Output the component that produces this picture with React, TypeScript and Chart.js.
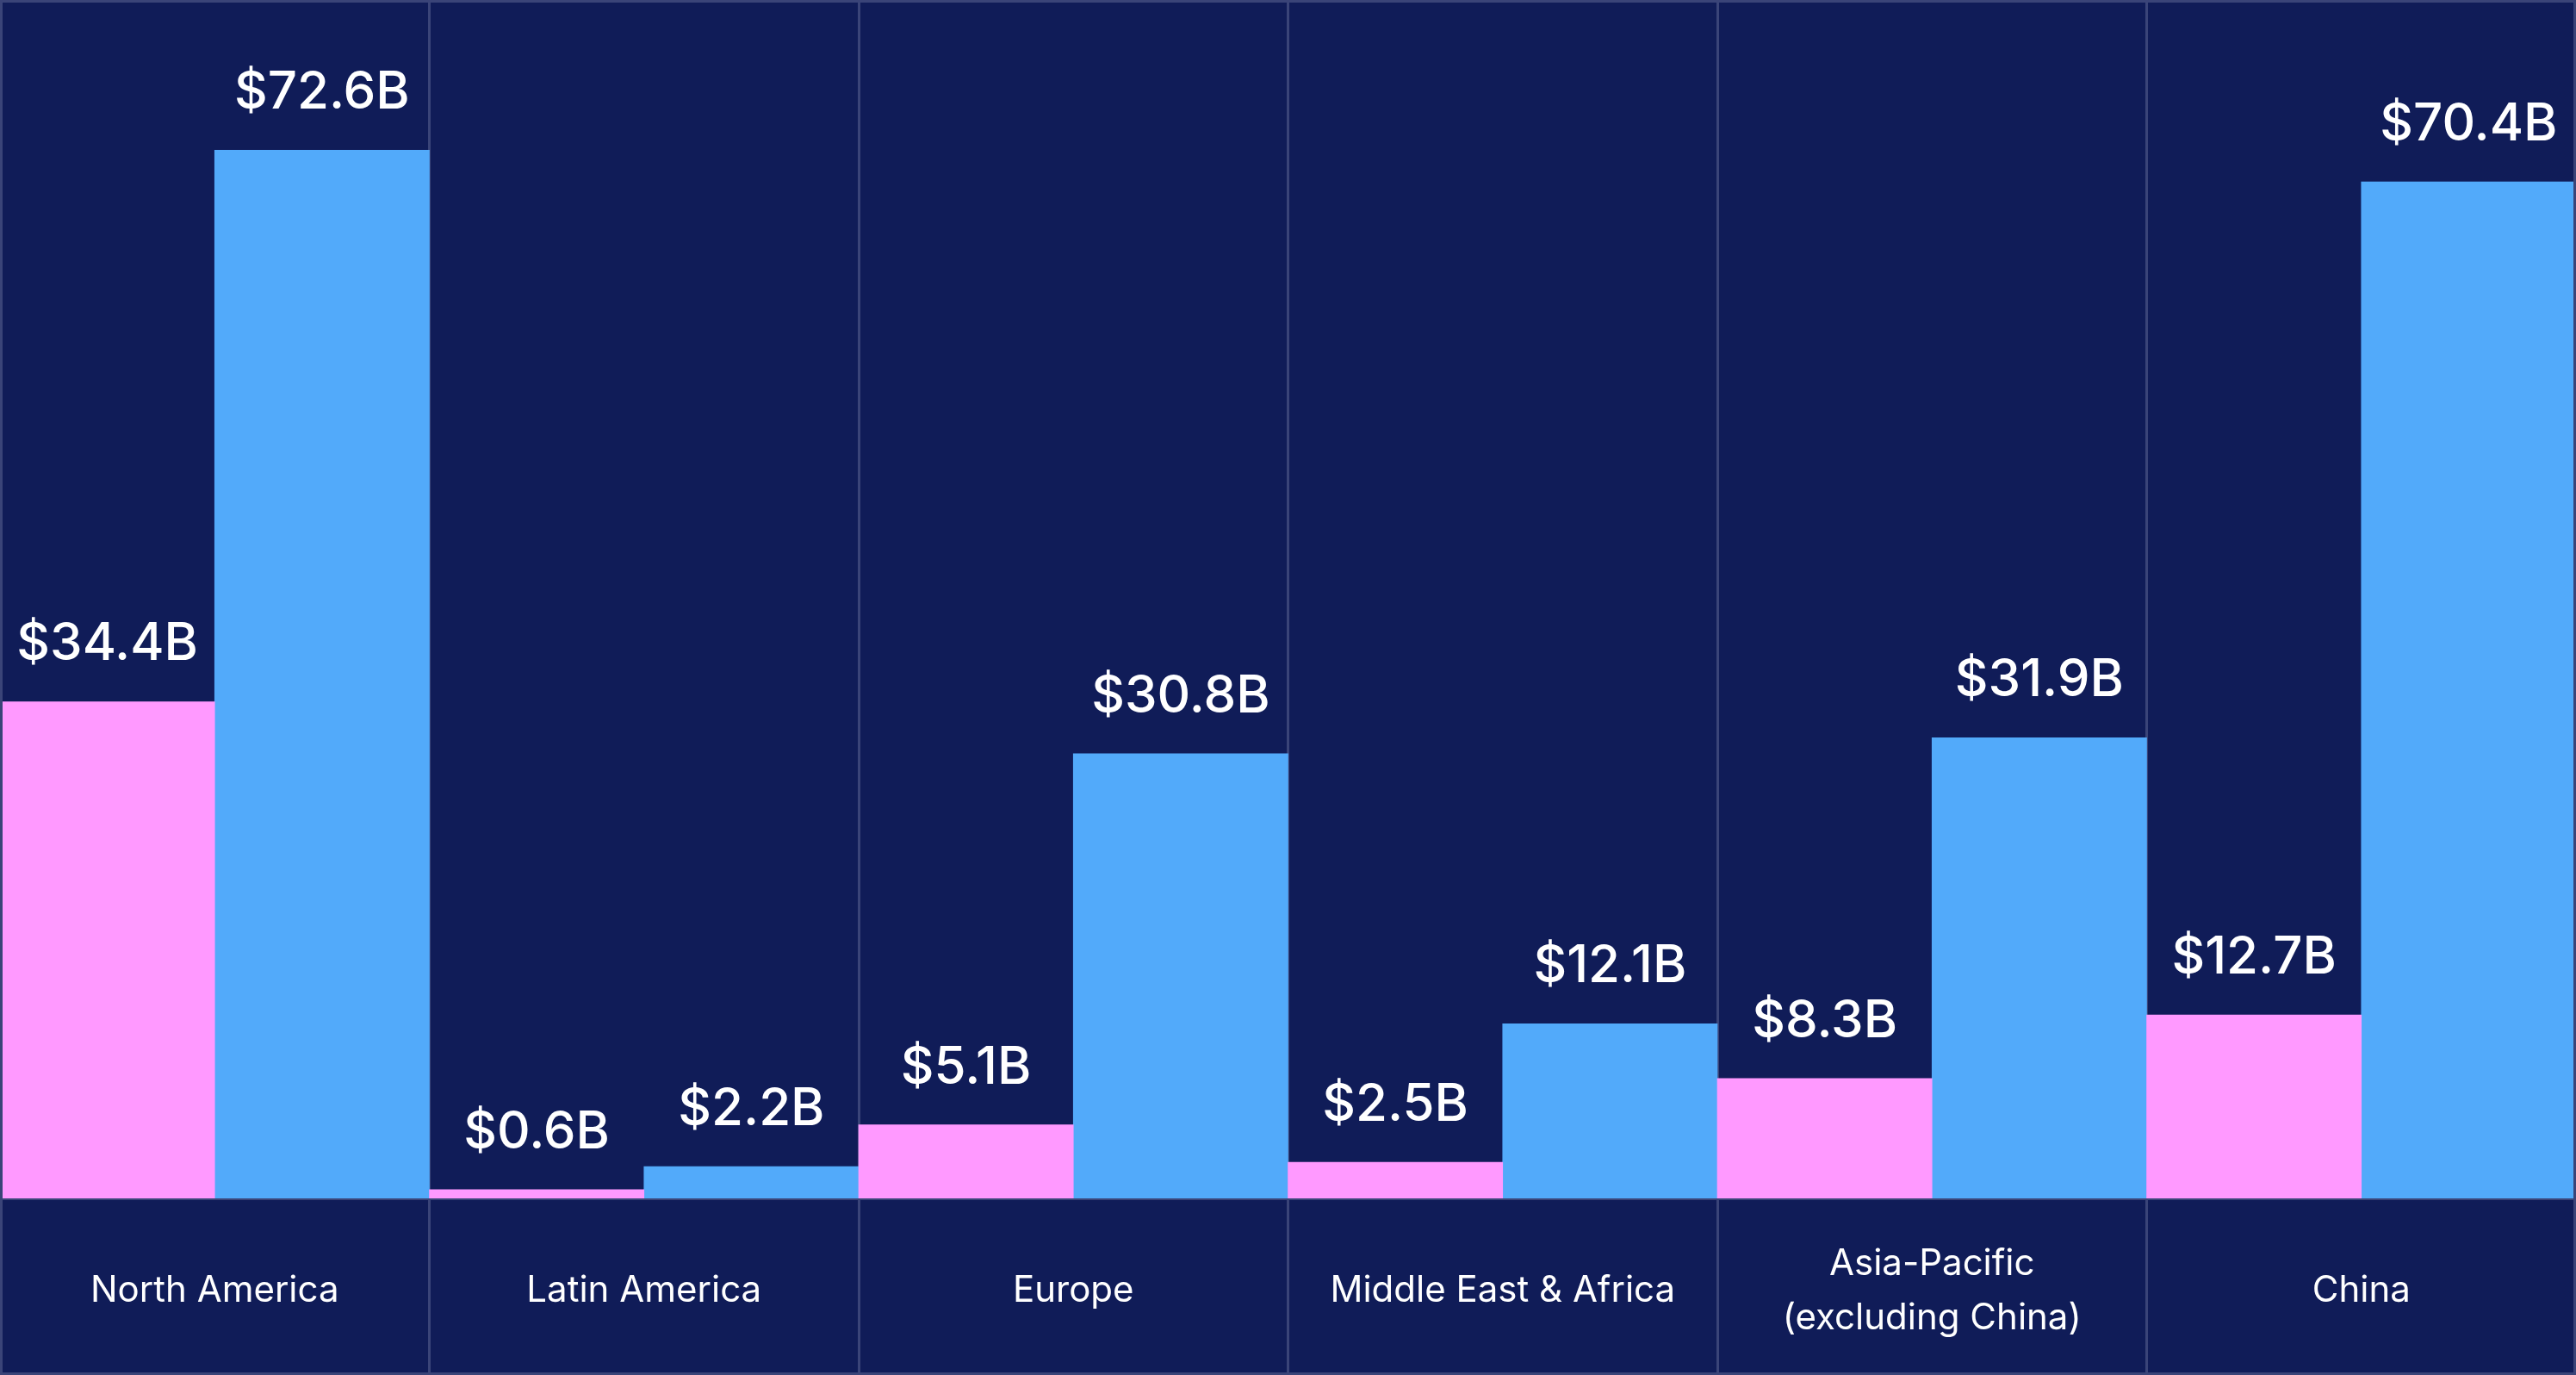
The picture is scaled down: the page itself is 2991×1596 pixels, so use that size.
import { useEffect, useRef } from "react";
import { Chart, registerables } from "chart.js";

Chart.register(...registerables);

const categories: (string | string[])[] = [
  "North America",
  "Latin America",
  "Europe",
  "Middle East & Africa",
  ["Asia-Pacific", "(excluding China)"],
  "China",
];
const pinkValues = [34.4, 0.6, 5.1, 2.5, 8.3, 12.7];
const blueValues = [72.6, 2.2, 30.8, 12.1, 31.9, 70.4];

const BG = "#101c58";
const GRID = "#3a4478";
const PINK = "#ff99ff";
const BLUE = "#52aafa";
const W = 2991;
const H = 1596;

const fmt = (v: number) => `$${v.toFixed(1)}B`;

const bgPlugin = {
  id: "bgFill",
  beforeDraw(chart: any) {
    const { ctx, width, height } = chart;
    ctx.save();
    ctx.fillStyle = BG;
    ctx.fillRect(0, 0, width, height);
    ctx.restore();
  },
};

const framePlugin = {
  id: "frame",
  afterDraw(chart: any) {
    const { ctx, width, height } = chart;
    ctx.save();
    ctx.strokeStyle = GRID;
    ctx.lineWidth = 3;
    ctx.strokeRect(1.5, 1.5, width - 3, height - 3);
    ctx.restore();
  },
};

const valueLabelPlugin = {
  id: "valueLabels",
  afterDatasetsDraw(chart: any) {
    const { ctx } = chart;
    ctx.save();
    ctx.fillStyle = "#ffffff";
    ctx.font = "500 60px Inter";
    ctx.textAlign = "center";
    ctx.textBaseline = "alphabetic";
    chart.data.datasets.forEach((ds: any, di: number) => {
      const meta = chart.getDatasetMeta(di);
      meta.data.forEach((bar: any, i: number) => {
        const { x, y } = bar.getProps(["x", "y"], true);
        ctx.fillText(fmt(ds.data[i]), x, y - 48);
      });
    });
    ctx.restore();
  },
};

export default function App() {
  const ref = useRef<HTMLCanvasElement | null>(null);

  useEffect(() => {
    if (!ref.current) return;
    const chart = new Chart(ref.current, {
      type: "bar",
      data: {
        labels: categories as any,
        datasets: [
          {
            label: "Pink",
            data: pinkValues,
            backgroundColor: PINK,
            borderWidth: 0,
            categoryPercentage: 1,
            barPercentage: 1,
          },
          {
            label: "Blue",
            data: blueValues,
            backgroundColor: BLUE,
            borderWidth: 0,
            categoryPercentage: 1,
            barPercentage: 1,
          },
        ],
      },
      options: {
        responsive: false,
        animation: false,
        devicePixelRatio: 1,
        layout: { padding: 0 },
        plugins: {
          legend: { display: false },
          tooltip: { enabled: false },
        },
        scales: {
          x: {
            offset: true,
            grid: {
              offset: true,
              color: GRID,
              lineWidth: 3,
              drawTicks: true,
              tickLength: 205,
              tickColor: GRID,
              tickWidth: 3,
            },
            border: { display: true, color: GRID, width: 4 },
            ticks: {
              color: "#ffffff",
              font: { family: "Inter", size: 42, lineHeight: 1.5 },
              padding: -129,
              maxRotation: 0,
              minRotation: 0,
              autoSkip: false,
              crossAlign: "center",
            },
            afterFit: (s: any) => {
              s.height = 205;
            },
          },
          y: {
            display: false,
            min: 0,
            max: 83,
          },
        },
      },
      plugins: [bgPlugin, valueLabelPlugin, framePlugin],
    });
    return () => chart.destroy();
  }, []);

  return (
    <div style={{ position: "fixed", left: 0, top: 0, width: W, height: H, background: BG }}>
      <canvas ref={ref} width={W} height={H} style={{ display: "block", width: W, height: H }} />
    </div>
  );
}
